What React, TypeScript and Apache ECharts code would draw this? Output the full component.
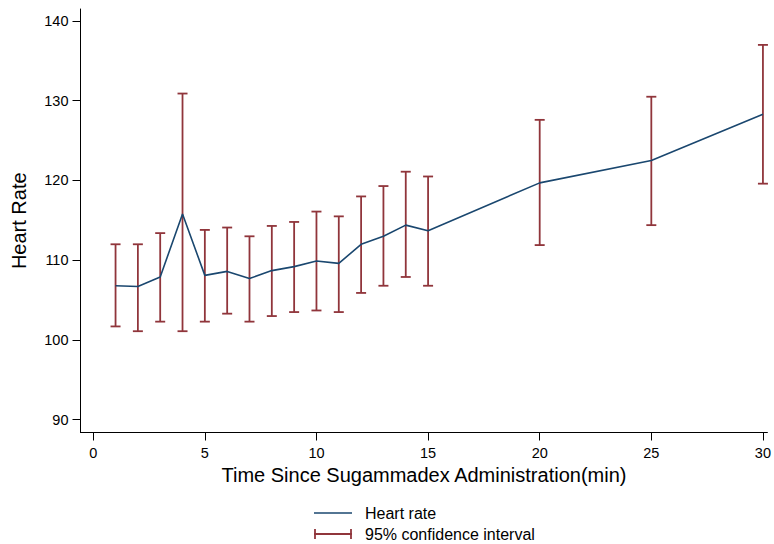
import React, { useEffect, useRef } from "react";
import * as echarts from "echarts";

const times = [1, 2, 3, 4, 5, 6, 7, 8, 9, 10, 11, 12, 13, 14, 15, 20, 25, 30];
const heartRate = [106.8, 106.7, 107.9, 115.8, 108.1, 108.6, 107.7, 108.7, 109.2, 109.9, 109.6, 112.0, 113.0, 114.4, 113.7, 119.7, 122.5, 128.3];
const ciUpper = [112.0, 112.0, 113.4, 130.9, 113.8, 114.1, 113.0, 114.3, 114.8, 116.1, 115.5, 118.0, 119.3, 121.1, 120.5, 127.6, 130.5, 137.0];
const ciLower = [101.7, 101.1, 102.3, 101.1, 102.3, 103.3, 102.3, 103.0, 103.5, 103.7, 103.5, 105.9, 106.8, 107.9, 106.8, 111.9, 114.4, 119.6];
const xTicks = [0, 5, 10, 15, 20, 25, 30];
const yTicks = [90, 100, 110, 120, 130, 140];

const NAVY = "#1a476f";
const MAROON = "#90353b";
const FONT = "'Liberation Sans', Arial, sans-serif";

export default function App() {
  const ref = useRef<HTMLDivElement>(null);
  useEffect(() => {
    if (!ref.current) return;
    const chart = echarts.init(ref.current, null, { renderer: "svg" });
    const lineData = times.map((t, i) => [t, heartRate[i]]);
    const ciData = times.map((t, i) => [t, ciLower[i], ciUpper[i]]);
    chart.setOption({
      animation: false,
      backgroundColor: "#fff",
      textStyle: { fontFamily: FONT },
      grid: { left: 80.5, right: 4, top: 9, bottom: 111.5, containLabel: false },
      xAxis: {
        type: "value",
        min: -0.57,
        max: 30.2,
        name: "Time Since Sugammadex Administration(min)",
        nameLocation: "middle",
        nameGap: 26,
        nameTextStyle: { fontSize: 20, color: "#000", fontFamily: FONT },
        axisLine: { show: true, onZero: false, lineStyle: { color: "#000", width: 1 } },
        axisTick: { show: true, length: 8, customValues: xTicks, lineStyle: { color: "#000" } },
        axisLabel: { customValues: xTicks, fontSize: 14.5, color: "#000", margin: 13, fontFamily: FONT },
        splitLine: { show: false },
      },
      yAxis: {
        type: "value",
        min: 88.4,
        max: 141.5,
        name: "Heart Rate",
        nameLocation: "middle",
        nameGap: 52,
        nameTextStyle: { fontSize: 20, color: "#000", fontFamily: FONT },
        axisLine: { show: true, onZero: false, lineStyle: { color: "#000", width: 1 } },
        axisTick: { show: true, length: 8, customValues: yTicks, lineStyle: { color: "#000" } },
        axisLabel: { customValues: yTicks, fontSize: 14.5, color: "#000", margin: 12, fontFamily: FONT },
        splitLine: { show: false },
      },
      series: [
        {
          name: "95% confidence interval",
          type: "custom",
          data: ciData,
          z: 2,
          itemStyle: { color: MAROON },
          encode: { x: 0, y: [1, 2] },
          renderItem: (params: any, api: any) => {
            const x = api.value(0);
            const lo = api.coord([x, api.value(1)]);
            const hi = api.coord([x, api.value(2)]);
            const cw = 5;
            const style = { stroke: MAROON, lineWidth: 1.8, fill: "none" };
            return {
              type: "group",
              children: [
                { type: "line", shape: { x1: hi[0], y1: hi[1], x2: lo[0], y2: lo[1] }, style },
                { type: "line", shape: { x1: hi[0] - cw, y1: hi[1], x2: hi[0] + cw, y2: hi[1] }, style },
                { type: "line", shape: { x1: lo[0] - cw, y1: lo[1], x2: lo[0] + cw, y2: lo[1] }, style },
              ],
            };
          },
        },
        {
          name: "Heart rate",
          type: "line",
          data: lineData,
          z: 3,
          symbol: "none",
          lineStyle: { color: NAVY, width: 1.6 },
          itemStyle: { color: NAVY },
        },
      ],
      graphic: [
        { type: "line", shape: { x1: 314, y1: 513, x2: 352, y2: 513 }, style: { stroke: NAVY, lineWidth: 1.6 } },
        { type: "text", x: 365, y: 513, style: { text: "Heart rate", fontSize: 16, fontFamily: FONT, fill: "#000", verticalAlign: "middle" } },
        { type: "line", shape: { x1: 314, y1: 534, x2: 352, y2: 534 }, style: { stroke: MAROON, lineWidth: 1.8 } },
        { type: "line", shape: { x1: 315, y1: 529, x2: 315, y2: 539 }, style: { stroke: MAROON, lineWidth: 1.8 } },
        { type: "line", shape: { x1: 351, y1: 529, x2: 351, y2: 539 }, style: { stroke: MAROON, lineWidth: 1.8 } },
        { type: "text", x: 365, y: 534, style: { text: "95% confidence interval", fontSize: 16, fontFamily: FONT, fill: "#000", verticalAlign: "middle" } },
      ],
    });
    return () => chart.dispose();
  }, []);
  return (
    <div
      ref={ref}
      style={{ position: "fixed", left: 0, top: 0, width: 774, height: 544, background: "#fff" }}
    />
  );
}
